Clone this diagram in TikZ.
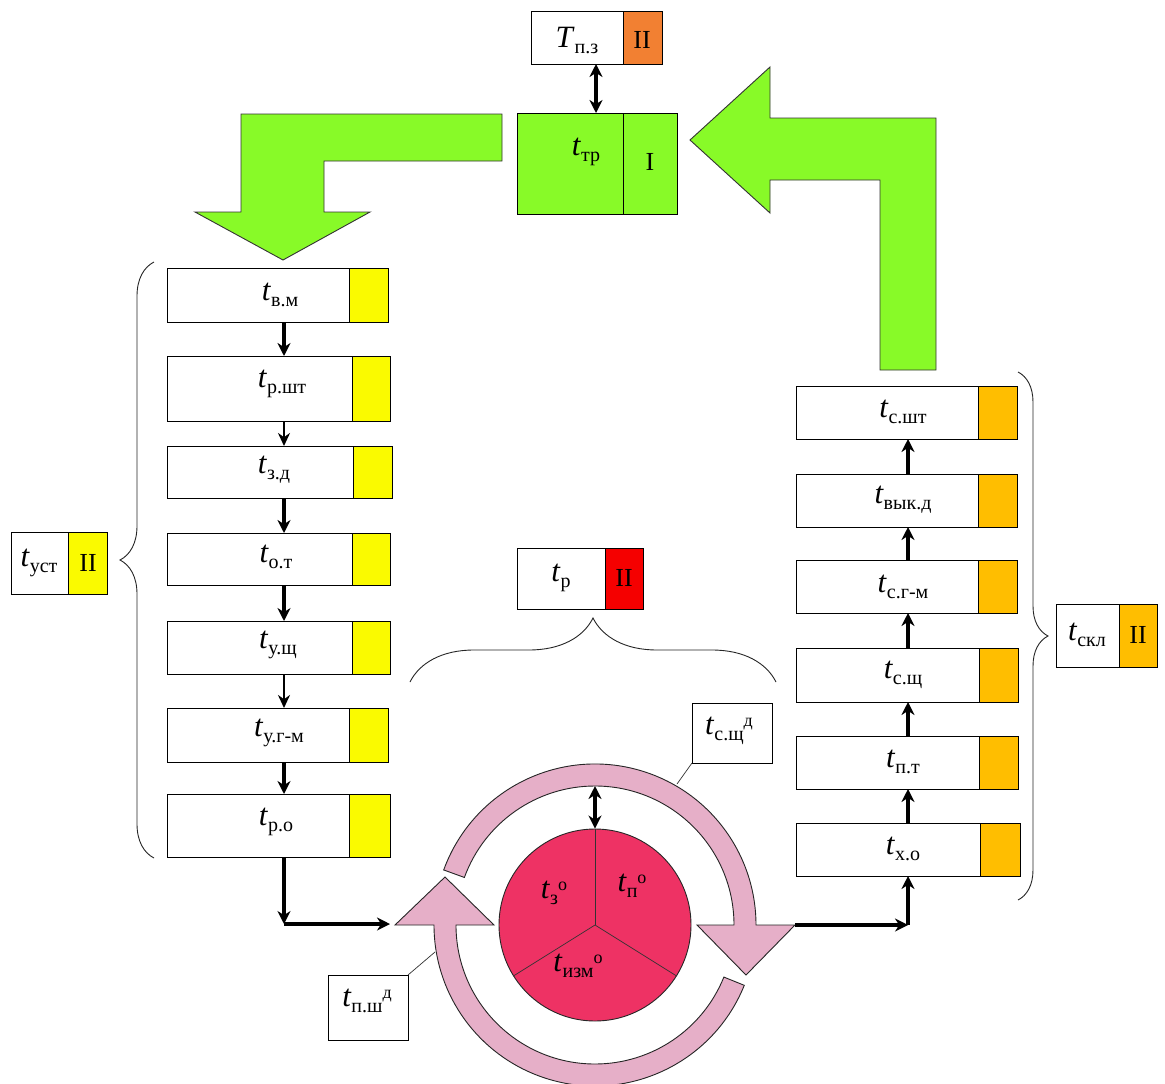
\documentclass[tikz,border=0pt]{standalone}
\usepackage{fontspec}
\setmainfont{Liberation Serif}
\usetikzlibrary{arrows.meta,decorations.pathreplacing,fit,calc}
\definecolor{grn}{RGB}{136,250,40}
\definecolor{ylw}{RGB}{250,250,0}
\definecolor{gold}{RGB}{255,190,0}
\definecolor{orng}{RGB}{242,128,50}
\definecolor{redd}{RGB}{245,0,0}
\definecolor{crim}{RGB}{238,50,100}
\definecolor{pnk}{RGB}{230,175,200}
\newcommand\tlab[3]{{\fontsize{31}{33}\selectfont\textit{#1}\raisebox{-6pt}{\fontsize{20}{22}\selectfont #2}\raisebox{8pt}{\fontsize{18}{20}\selectfont #3}}}
\newcommand\bx[7]{%
  \node[box, fill=white, fit={(#2,#3) (#5,#6)}] (#1) {};
  \node[box, fill=#7, fit={(#4,#3) (#5,#6)}] (#1c) {};
}
\tikzset{
  box/.style={draw=black, line width=0.9pt, inner sep=0pt, outer sep=0pt},
  lbl/.style={inner sep=0pt},
  rn/.style={inner sep=0pt, font=\fontsize{26}{28}\selectfont},
  arr/.style={draw=black, line width=3.5pt, -{Stealth[length=13pt,width=13pt]}},
  arrt/.style={draw=black, line width=2.2pt, -{Stealth[length=13pt,width=12pt]}},
  darr/.style={draw=black, line width=3.5pt, {Stealth[length=13pt,width=13pt]}-{Stealth[length=13pt,width=13pt]}},
  gshape/.style={fill=grn, draw=black!80, line width=0.9pt, line join=miter},
  ring/.style={fill=pnk, draw=black!85, line width=0.9pt},
  brc/.style={draw=black!85, line width=0.9pt, decorate},
  thin/.style={draw=black!80, line width=0.7pt},
}
\begin{document}
\begin{tikzpicture}[x=1pt,y=-1pt]
\useasboundingbox (0,0) rectangle (1165,1084);
\fill[white] (0,0) rectangle (1165,1084);

% green bent arrows
\filldraw[gshape] (502,114) -- (241,114) -- (241,212) -- (195,212) -- (283,260) -- (370,212) -- (324,212) -- (324,161) -- (502,161) -- cycle;
\filldraw[gshape] (690,140) -- (770,67) -- (770,118) -- (936,118) -- (936,370) -- (880,370) -- (880,180) -- (770,180) -- (770,213) -- cycle;

% top boxes
\bx{Tpz}{531}{11}{623}{662}{64}{orng}
\node[lbl] at (577,40) {\tlab{T}{п.з}{}};
\node[rn] at (642,40) {II};

\node[box, fill=grn, fit={(517,113) (677,214)}] (tr) {};
\node[box, fill=grn, fit={(623,113) (677,214)}] (trc) {};
\node[lbl] at (586,152) {\tlab{t}{тр}{}};
\node[rn] at (650,162) {I};

\coordinate (cx) at (596,0);
\draw[darr] (Tpz.south -| cx) -- (tr.north -| cx);

% left column
\bx{L1}{167}{268}{349}{388}{322}{ylw}
\bx{L2}{167}{356}{352}{390}{421}{ylw}
\bx{L3}{167}{446}{353}{392}{498}{ylw}
\bx{L4}{167}{533}{352}{390}{585}{ylw}
\bx{L5}{167}{621}{352}{390}{674}{ylw}
\bx{L6}{167}{708}{349}{388}{762}{ylw}
\bx{L7}{167}{794}{349}{390}{857}{ylw}
\node[lbl] at (280,295) {\tlab{t}{в.м}{}};
\node[lbl] at (282,384) {\tlab{t}{р.шт}{}};
\node[lbl] at (274,470) {\tlab{t}{з.д}{}};
\node[lbl] at (276,557) {\tlab{t}{о.т}{}};
\node[lbl] at (278,645) {\tlab{t}{у.щ}{}};
\node[lbl] at (279,733) {\tlab{t}{у.г-м}{}};
\node[lbl] at (276,822) {\tlab{t}{р.о}{}};
\coordinate (ax) at (284,0);
\draw[arr] (L1.south -| ax) -- (L2.north -| ax);
\draw[arrt] (L2.south -| ax) -- (L3.north -| ax);
\draw[arr] (L3.south -| ax) -- (L4.north -| ax);
\draw[arr] (L4.south -| ax) -- (L5.north -| ax);
\draw[arrt] (L5.south -| ax) -- (L6.north -| ax);
\draw[arr] (L6.south -| ax) -- (L7.north -| ax);

% left summary
\bx{Tu}{11}{532}{68}{107}{594}{ylw}
\node[lbl] at (39,563) {\tlab{t}{уст}{}};
\node[rn] at (88,563) {II};
\draw[brc, decoration={brace, amplitude=34pt}] (154,858) -- (154,262);

% right column
\bx{R1}{796}{386}{978}{1017}{439}{gold}
\bx{R2}{796}{474}{978}{1017}{527}{gold}
\bx{R3}{796}{560}{978}{1017}{613}{gold}
\bx{R4}{796}{648}{979}{1018}{702}{gold}
\bx{R5}{796}{736}{979}{1018}{789}{gold}
\bx{R6}{796}{823}{980}{1020}{876}{gold}
\node[lbl] at (903,412) {\tlab{t}{с.шт}{}};
\node[lbl] at (903,500) {\tlab{t}{вык.д}{}};
\node[lbl] at (903,587) {\tlab{t}{с.г-м}{}};
\node[lbl] at (903,675) {\tlab{t}{с.щ}{}};
\node[lbl] at (903,762) {\tlab{t}{п.т}{}};
\node[lbl] at (903,849) {\tlab{t}{х.о}{}};
\coordinate (bx) at (908,0);
\draw[arr] (R2.north -| bx) -- (R1.south -| bx);
\draw[arr] (R3.north -| bx) -- (R2.south -| bx);
\draw[arr] (R4.north -| bx) -- (R3.south -| bx);
\draw[arr] (R5.north -| bx) -- (R4.south -| bx);
\draw[arr] (R6.north -| bx) -- (R5.south -| bx);

% right summary
\bx{Tskl}{1056}{604}{1119}{1157}{667}{gold}
\node[lbl] at (1087,635) {\tlab{t}{скл}{}};
\node[rn] at (1138,635) {II};
\draw[brc, decoration={brace, amplitude=30pt}] (1018,372) -- (1018,900);

% t_p
\bx{Tp}{517}{548}{605}{643}{609}{redd}
\node[lbl] at (561,578) {\tlab{t}{р}{}};
\node[rn] at (624,578) {II};
\draw[brc, decoration={brace, amplitude=64pt}] (410,682) -- (776,682);

% pink ring arrows
\coordinate (O) at (595,925);
\filldraw[ring] ($(O)+(-160:161)$) arc[start angle=-160, end angle=0, radius=161] -- (795,925) -- (746,975) -- (697,925) -- ($(O)+(0:139)$) arc[start angle=0, end angle=-160, radius=139] -- cycle;
\filldraw[ring] ($(O)+(22:161)$) arc[start angle=22, end angle=180, radius=161] -- (395,925) -- (445,877) -- (494,925) -- ($(O)+(180:139)$) arc[start angle=180, end angle=22, radius=139] -- cycle;

% central circle
\node[circle, draw=black!85, line width=0.9pt, fill=crim, minimum size=192pt, inner sep=0pt] (circ) at (O) {};
\draw[thin] (circ.center) -- (circ.north);
\draw[thin] (circ.center) -- (circ.212);
\draw[thin] (circ.center) -- (circ.328);
\node[lbl] at (554,893) {\tlab{t}{з}{о}};
\node[lbl] at (632,886) {\tlab{t}{п}{о}};
\node[lbl] at (578,966) {\tlab{t}{изм}{о}};
\coordinate (ringtop) at (595,786);
\draw[darr] (circ.north) -- (ringtop);

% small label boxes
\node[box, fill=white, fit={(692,703) (772,763)}] (Ssh) {};
\node[lbl] at (729,731) {\tlab{t}{с.щ}{д}};
\coordinate (ringA) at (677,784);
\draw[thin] (Ssh.south west) -- (ringA);

\node[box, fill=white, fit={(328,975) (408,1040)}] (Psh) {};
\node[lbl] at (367,1001) {\tlab{t}{п.ш}{д}};
\coordinate (ringB) at (435,952);
\draw[thin] (Psh.north east) -- (ringB);

% flow connectors
\coordinate (cL) at (284,924);
\coordinate (inL) at (390,924);
\draw[arr] (L7.south -| ax) -- (cL);
\draw[arr] (cL) -- (inL);
\coordinate (outR) at (795,925);
\coordinate (cR) at (908,925);
\draw[arr] (outR) -- (cR);
\draw[arr] (cR) -- (R6.south -| bx);
\end{tikzpicture}
\end{document}
